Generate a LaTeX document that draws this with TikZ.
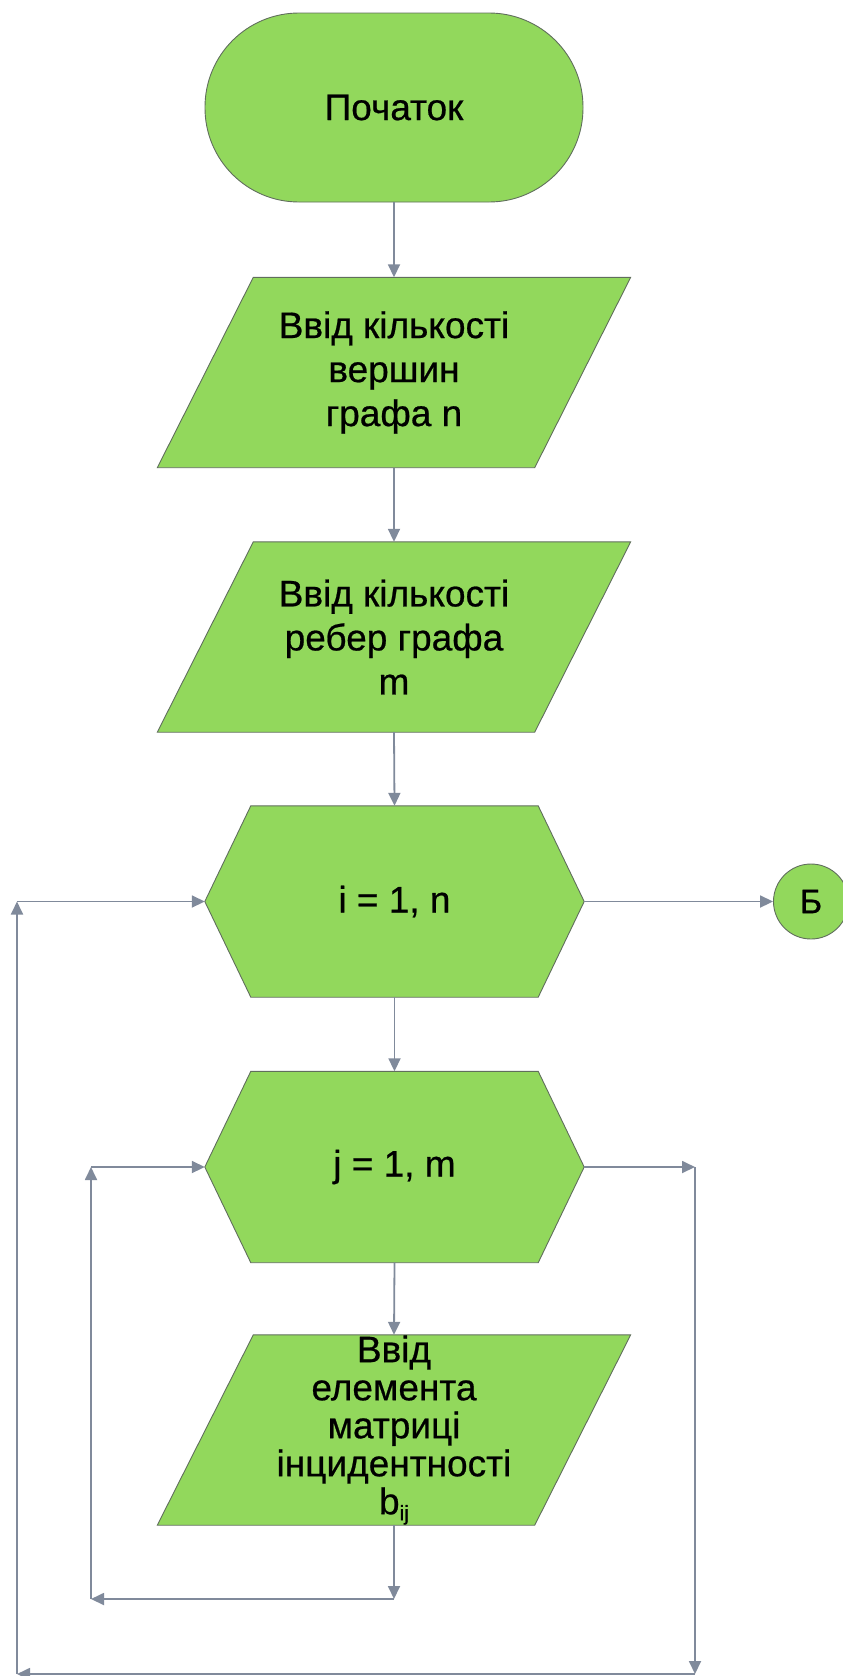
\documentclass[tikz,border=0pt]{standalone}
\usepackage{fontspec}
\setmainfont[FakeBold=0.6]{Liberation Sans}
\newfontfamily\heavyfont[FakeBold=0.6]{Liberation Sans}
\usetikzlibrary{arrows.meta}
\definecolor{fillg}{RGB}{146,216,92}
\definecolor{edgeg}{RGB}{96,110,92}
\definecolor{conng}{RGB}{128,138,155}
\pgfdeclarelayer{bg}
\pgfsetlayers{bg,main}
\begin{document}
\begin{tikzpicture}[x=1pt,y=-1pt,
  conn/.style={draw=conng, line width=1.8pt, -{Triangle[length=13pt,width=12pt]}},
  shp/.style={fill=fillg, draw=edgeg, line width=0.9pt},
  txt/.style={font=\heavyfont\fontsize{37}{44}\selectfont, align=center, text=black, inner sep=0pt},
  pbox/.style={txt, minimum width=473pt, minimum height=190pt},
  hbox/.style={txt, minimum width=379pt, minimum height=191pt}
]
\useasboundingbox (0,0) rectangle (843,1676);

% start terminal
\node[shp, txt, rounded corners=94pt, minimum width=378pt, minimum height=189pt] (t) at (394,107.5) {Початок};

% input blocks
\node[pbox] (p1) at (394,372.5) {Ввід кількості\\вершин\\графа n};
\node[pbox] (p2) at (394,637) {Ввід кількості\\ребер графа\\m};
% loop blocks
\node[hbox] (h1) at (394.5,901.5) {i = 1, n};
\node[hbox] (h2) at (394.5,1167) {j = 1, m};
\node[pbox, font=\heavyfont\fontsize{37}{38}\selectfont] (p3) at (394,1430) {Ввід\\елемента\\матриці\\інцидентності\\b{\fontsize{21}{21}\selectfont\raisebox{-6pt}{ij}}};
% connector circle
\node[shp, circle, minimum size=75pt, inner sep=0pt, font=\heavyfont\fontsize{34}{34}\selectfont] (b) at (811,901.5) {Б};

\begin{pgfonlayer}{bg}
\foreach \p in {p1,p2,p3}{
  \draw[shp] ([xshift=96pt]\p.north west) -- (\p.north east) -- ([xshift=-96pt]\p.south east) -- (\p.south west) -- cycle;
}
\foreach \h in {h1,h2}{
  \draw[shp] (\h.west) -- ([xshift=46pt]\h.north west) -- ([xshift=-46pt]\h.north east) -- (\h.east) -- ([xshift=-46pt]\h.south east) -- ([xshift=46pt]\h.south west) -- cycle;
}
\end{pgfonlayer}

% main flow
\draw[conn] (t.south) -- (p1.north);
\draw[conn] (p1.south) -- (p2.north);
\draw[conn] (p2.south) -- (h1.north);
\draw[conn] (h1.south) -- (h2.north);
\draw[conn] (h2.south) -- (p3.north);
\draw[conn] (h1.east) -- (b.west);

% inner loop
\coordinate (c1) at (394,1599);
\coordinate (c2) at (91,1599);
\coordinate (c3) at (91,1167);
\draw[conn] (p3.south) -- (c1);
\draw[conn] (c1) -- (c2);
\draw[conn] (c2) -- (c3);
\draw[conn] (c3) -- (h2.west);

% outer loop
\coordinate (d1) at (695,1167);
\coordinate (d2) at (695,1674);
\coordinate (d3) at (17,1674);
\coordinate (d4) at (17,901.5);
\draw[conn] (h2.east) -- (d1);
\draw[conn] (d1) -- (d2);
\draw[conn] (d2) -- (d3);
\draw[conn] (d3) -- (d4);
\draw[conn] (d4) -- (h1.west);
\end{tikzpicture}
\end{document}
